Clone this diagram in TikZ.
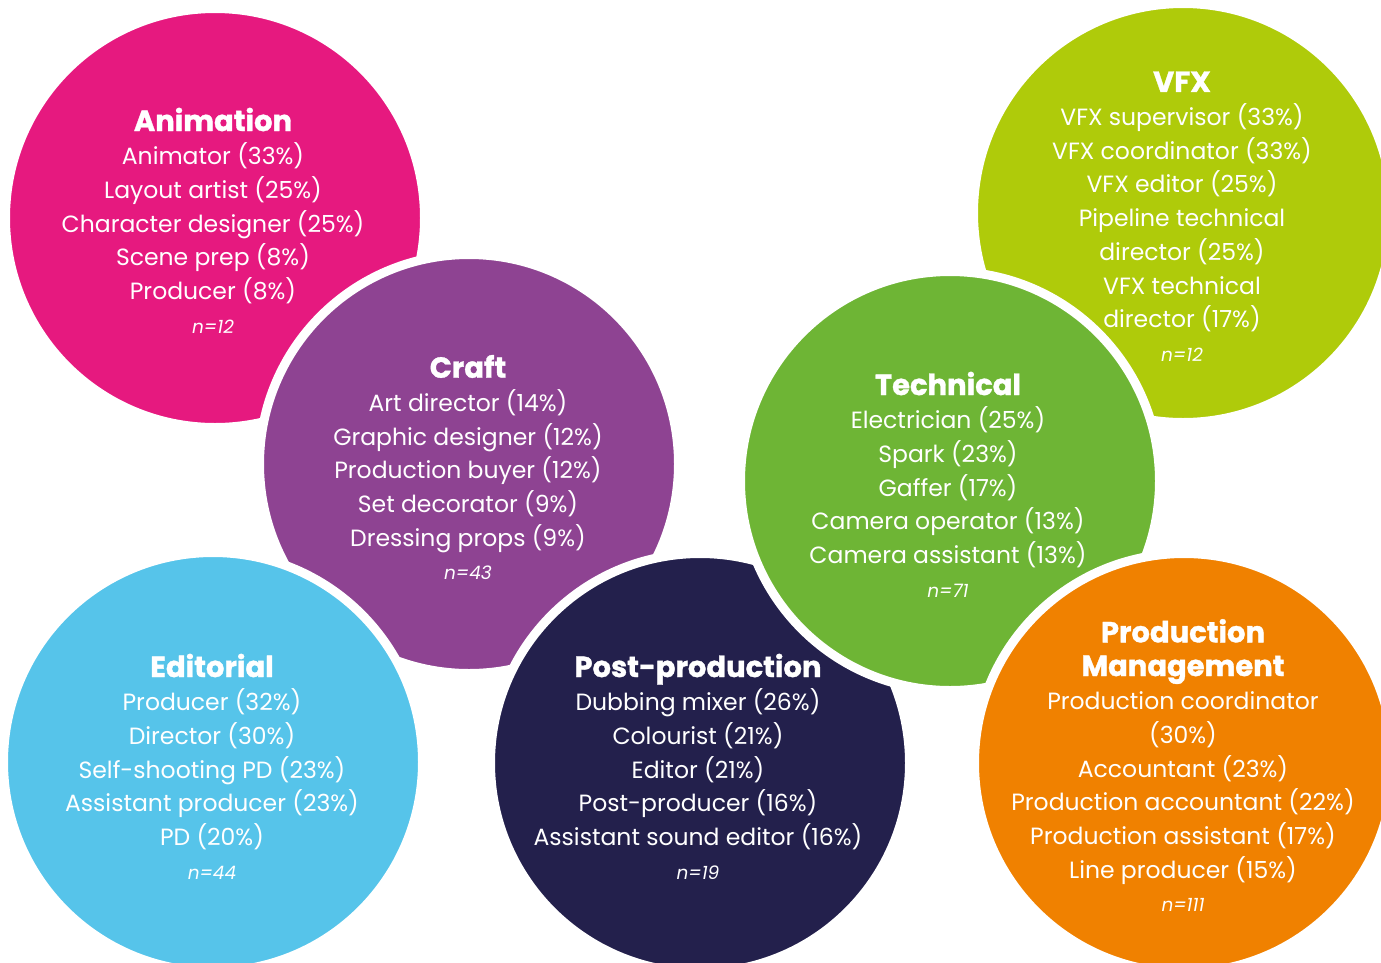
\documentclass[tikz,border=0pt]{standalone}
\usepackage{fontspec}
\setmainfont{Poppins}
\definecolor{animpink}{HTML}{E6197F}
\definecolor{craftpurple}{HTML}{8E4392}
\definecolor{editblue}{HTML}{56C4EA}
\definecolor{postnavy}{HTML}{23204C}
\definecolor{techgreen}{HTML}{6EB535}
\definecolor{vfxlime}{HTML}{AFCB0A}
\definecolor{pmorange}{HTML}{F08100}
\newcommand{\grouphead}[1]{{\fontsize{29}{34}\selectfont\bfseries\addfontfeature{FakeBold=1.2}#1}}
\newcommand{\samplen}[1]{{\fontsize{18.5}{34}\selectfont\itshape #1}}

\begin{document}
\begin{tikzpicture}[x=1pt,y=-1pt,
  bubble/.style={circle, draw=white, line width=9pt, minimum size=419pt, inner sep=0pt},
  roles/.style={text=white, align=center, font=\fontsize{23.5}{33.7}\selectfont}]
  \useasboundingbox (0,0) rectangle (1381,962);
  % circles, back to front
  \node[bubble, fill=animpink] (animation) at (215,218) {};
  \node[bubble, fill=craftpurple] (craft) at (469,464) {};
  \node[bubble, fill=editblue] (editorial) at (213,762) {};
  \node[bubble, fill=postnavy] (post) at (700,763) {};
  \node[bubble, fill=vfxlime] (vfx) at (1183,213) {};
  \node[bubble, fill=techgreen] (technical) at (950,481) {};
  \node[bubble, fill=pmorange] (pm) at (1184,763) {};
  % texts
  \node[roles] (animation text) at (213,220.5) {\grouphead{Animation}\\
    Animator (33\%)\\ Layout artist (25\%)\\ Character designer (25\%)\\
    Scene prep (8\%)\\ Producer (8\%)\\ \samplen{n=12}};
  \node[roles] (craft text) at (468,467.5) {\grouphead{Craft}\\
    Art director (14\%)\\ Graphic designer (12\%)\\ Production buyer (12\%)\\
    Set decorator (9\%)\\ Dressing props (9\%)\\ \samplen{n=43}};
  \node[roles] (editorial text) at (212,766.5) {\grouphead{Editorial}\\
    Producer (32\%)\\ Director (30\%)\\ Self-shooting PD (23\%)\\
    Assistant producer (23\%)\\ PD (20\%)\\ \samplen{n=44}};
  \node[roles] (post text) at (698,766.5) {\grouphead{Post-production}\\
    Dubbing mixer (26\%)\\ Colourist (21\%)\\ Editor (21\%)\\
    Post-producer (16\%)\\ Assistant sound editor (16\%)\\ \samplen{n=19}};
  \node[roles] (technical text) at (948,484.5) {\grouphead{Technical}\\
    Electrician (25\%)\\ Spark (23\%)\\ Gaffer (17\%)\\
    Camera operator (13\%)\\ Camera assistant (13\%)\\ \samplen{n=71}};
  \node[roles] (vfx text) at (1182,216.5) {\grouphead{VFX}\\
    VFX supervisor (33\%)\\ VFX coordinator (33\%)\\ VFX editor (25\%)\\
    Pipeline technical\\ director (25\%)\\ VFX technical\\ director (17\%)\\
    \samplen{n=12}};
  \node[roles] (pm text) at (1183,765.5) {\grouphead{Production}\\
    \grouphead{Management}\\ Production coordinator\\ (30\%)\\
    Accountant (23\%)\\ Production accountant (22\%)\\
    Production assistant (17\%)\\ Line producer (15\%)\\ \samplen{n=111}};
\end{tikzpicture}
\end{document}
